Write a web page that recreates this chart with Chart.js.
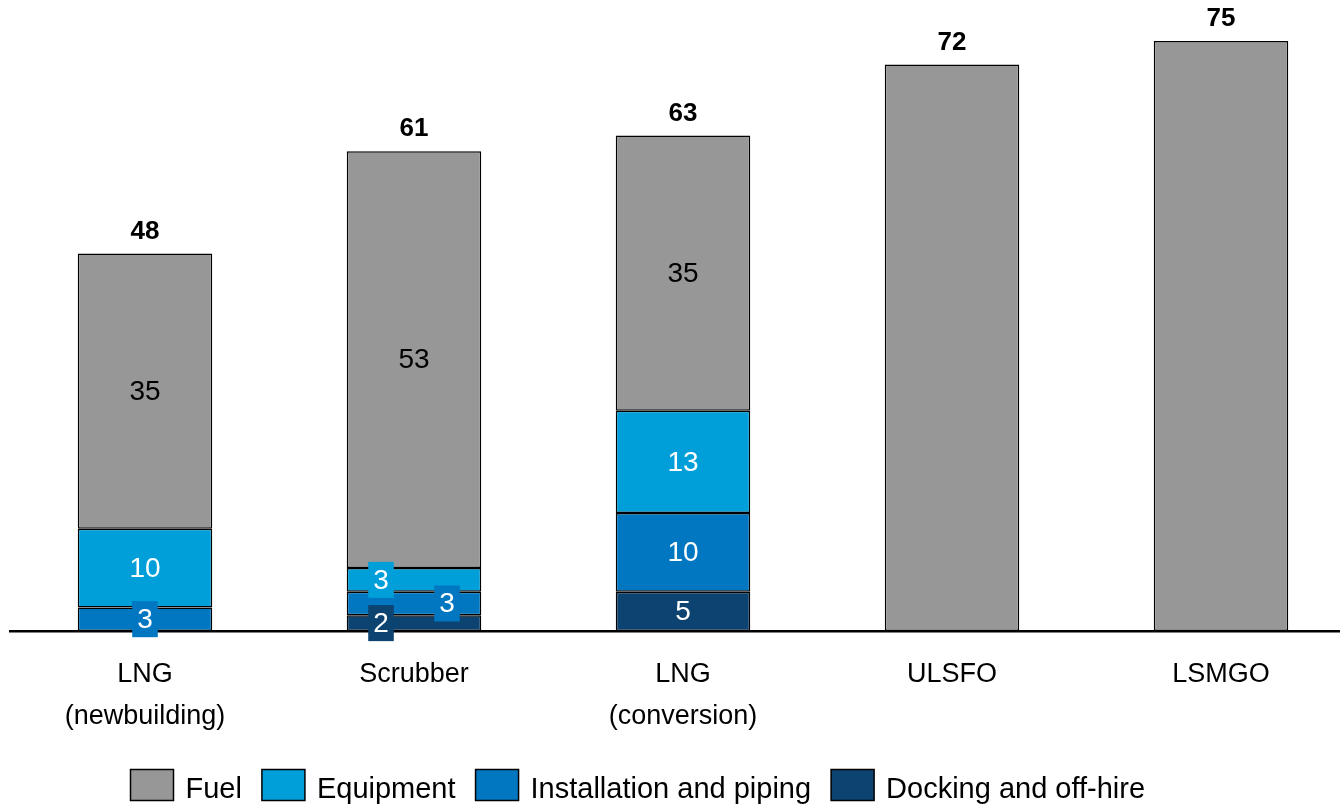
<!DOCTYPE html>
<html><head><meta charset="utf-8">
<script src="https://cdn.jsdelivr.net/npm/chart.js@4.4.1/dist/chart.umd.min.js"></script>
<style>
html,body{margin:0;padding:0;overflow:hidden;background:#fff;}
#wrap{width:1356px;height:806px;position:relative;}
</style></head><body>
<div id="wrap"><canvas id="c" width="1356" height="806"></canvas></div>
<script>
// ---- data ----
const categories = [["LNG","(newbuilding)"], "Scrubber", ["LNG","(conversion)"], "ULSFO", "LSMGO"];
const docking      = [null, 2, 5, null, null];
const installation = [3, 3, 10, null, null];
const equipment    = [10, 3, 13, null, null];
const fuel         = [35, 53, 35, 72, 75];
const seriesNames  = ["Docking and off-hire", "Installation and piping", "Equipment", "Fuel"];

// ---- styles ----
const FONT = '"Liberation Sans", Arial, sans-serif';
const colors = ["#0c4370", "#0077c0", "#009fda", "#979797"];
const textColors = ["#ffffff", "#ffffff", "#ffffff", "#000000"];
// label tweaks for small segments: key "dataset-index" -> {dx, box}
const labelTweaks = {
  "1-0": {dx: 0, box: true},
  "0-1": {dx: -33, box: true},
  "1-1": {dx: 33, box: true},
  "2-1": {dx: -33, box: true}
};

const seriesValues = [docking, installation, equipment, fuel];
const datasets = seriesValues.map((vals, k) => ({
  label: seriesNames[k],
  data: vals,
  backgroundColor: colors[k],
  borderColor: "#000",
  borderWidth: 1.5,
  borderSkipped: false,
  barPercentage: 0.5,
  categoryPercentage: 1.0
}));

const labelPlugin = {
  id: "segLabels",
  afterDatasetsDraw(chart) {
    const ctx = chart.ctx;
    ctx.save();
    ctx.textAlign = "center";
    ctx.textBaseline = "middle";
    const nCat = categories.length;
    const tops = new Array(nCat).fill(Infinity);
    const totals = new Array(nCat).fill(0);
    const counts = new Array(nCat).fill(0);
    chart.data.datasets.forEach(ds => ds.data.forEach((v, i) => { if (v !== null && v !== undefined) counts[i]++; }));
    chart.data.datasets.forEach((ds, di) => {
      const meta = chart.getDatasetMeta(di);
      meta.data.forEach((el, i) => {
        const v = ds.data[i];
        if (v === null || v === undefined) return;
        totals[i] += v;
        tops[i] = Math.min(tops[i], el.y);
        if (counts[i] < 2) return;
        const tw = labelTweaks[di + "-" + i];
        const x = el.x + (tw ? tw.dx : 0);
        const y = (el.y + el.base) / 2;
        ctx.font = "28px " + FONT;
        const txt = String(v);
        if (tw && tw.box) {
          const w = ctx.measureText(txt).width + 10;
          const h = 36;
          ctx.fillStyle = colors[di];
          ctx.fillRect(x - w / 2, y - h / 2, w, h);
        }
        ctx.fillStyle = textColors[di];
        ctx.fillText(txt, x, y + 1);
      });
    });
    ctx.font = "bold 26px " + FONT;
    ctx.fillStyle = "#000";
    const meta0 = chart.getDatasetMeta(3);
    for (let i = 0; i < nCat; i++) {
      ctx.fillText(String(totals[i]), meta0.data[i].x, tops[i] - 22);
    }
    ctx.restore();
  }
};

const legendPlugin = {
  id: "customLegend",
  afterDraw(chart) {
    const ctx = chart.ctx;
    ctx.save();
    ctx.font = "29px " + FONT;
    ctx.textBaseline = "middle";
    ctx.textAlign = "left";
    let x = 130.5;
    const boxW = 43, boxH = 31, top = 769.5, gap = 12, itemGap = 20;
    const order = [3, 2, 1, 0];
    order.forEach(k => {
      ctx.fillStyle = colors[k];
      ctx.fillRect(x, top, boxW, boxH);
      ctx.strokeStyle = "#000";
      ctx.lineWidth = 1.5;
      ctx.strokeRect(x, top, boxW, boxH);
      ctx.fillStyle = "#000";
      const t = seriesNames[k];
      ctx.fillText(t, x + boxW + gap, top + boxH / 2 + 5);
      x += boxW + gap + ctx.measureText(t).width + itemGap;
    });
    ctx.restore();
  }
};

new Chart(document.getElementById("c"), {
  type: "bar",
  data: { labels: categories, datasets },
  options: {
    responsive: false,
    animation: false,
    devicePixelRatio: 1,
    layout: { padding: { left: 10.5, right: 0.5, top: 1.67, bottom: 45 } },
    plugins: { legend: { display: false }, tooltip: { enabled: false } },
    scales: {
      x: {
        stacked: true,
        offset: true,
        grid: { display: false, drawTicks: false },
        border: { display: true, color: "#000", width: 2.5 },
        ticks: {
          color: "#000",
          font: { family: FONT, size: 27, lineHeight: 1.5556 },
          padding: 23,
          maxRotation: 0,
          autoSkip: false
        }
      },
      y: { stacked: true, display: false, min: 0, max: 80 }
    }
  },
  plugins: [labelPlugin, legendPlugin]
});
</script>
</body></html>
